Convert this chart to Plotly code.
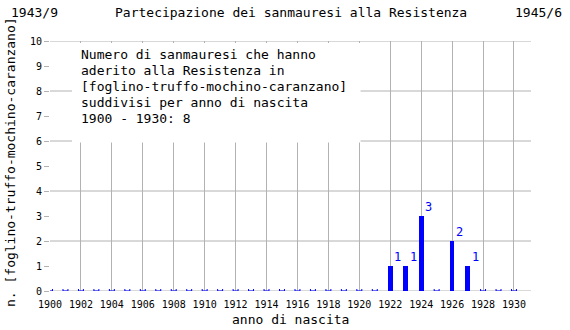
import plotly.graph_objects as go

# ---- data ----
years = list(range(1900, 1931))
counts = [0, 0, 0, 0, 0, 0, 0, 0, 0, 0,
          0, 0, 0, 0, 0, 0, 0, 0, 0, 0,
          0, 0, 1, 1, 3, 0, 2, 1, 0, 0, 0]
x_tick_vals = list(range(1900, 1931, 2))
y_tick_vals = list(range(0, 11))
y_grid_vals = [0, 2, 4, 6, 8, 10]
title_left = "1943/9"
title_center = "Partecipazione dei sanmauresi alla Resistenza"
title_right = "1945/6"
box_lines = [
    "Numero di sanmauresi che hanno",
    "aderito alla Resistenza in",
    "[foglino-truffo-mochino-caranzano]",
    "suddivisi per anno di nascita",
    "1900 - 1930: 8",
]
x_title = "anno di nascita"
y_title = "n. [foglino-truffo-mochino-caranzano]"

# ---- layout geometry ----
W, H = 570, 330
L, R, T, B = 50, 39, 41, 39
PW, PH = W - L - R, H - T - B
FONT = "DejaVu Sans Mono"
GRID = "#b2b2b2"
BLUE = "#0000ff"


def px(x):
    return (x - L) / PW


def py(y):
    return (H - B - y) / PH


fig = go.Figure()

bar_x = [y for y, c in zip(years, counts) if c > 0]
bar_y = [c for c in counts if c > 0]
zero_x = [y for y, c in zip(years, counts) if c == 0]
zero_y = [c for c in counts if c == 0]

fig.add_trace(go.Bar(x=bar_x, y=bar_y, width=0.3, marker=dict(color=BLUE, line=dict(width=0)),
                     hoverinfo="skip"))
fig.add_trace(go.Scatter(x=zero_x, y=zero_y, mode="markers",
                         marker=dict(size=0.1, color=BLUE),
                         error_x=dict(type="constant", value=0.16, color=BLUE, thickness=1, width=2),
                         hoverinfo="skip", cliponaxis=False))

shapes = []
for gy in y_grid_vals:
    shapes.append(dict(type="line", xref="paper", yref="y", x0=0, x1=1, y0=gy, y1=gy,
                       line=dict(color=GRID, width=1), layer="below"))
# white text box
shapes.append(dict(type="rect", xref="paper", yref="paper",
                   x0=px(72), x1=px(360.6), y0=py(142.5), y1=py(43),
                   fillcolor="white", line=dict(width=0), layer="above"))

annotations = []
for x, c in zip(bar_x, bar_y):
    annotations.append(dict(x=x, y=c, xref="x", yref="y", text=str(c), showarrow=False,
                            xanchor="left", yanchor="bottom", xshift=2, yshift=0,
                            font=dict(family=FONT, size=12, color=BLUE)))
line_y = [54, 70, 86, 102, 118]
for t, ly in zip(box_lines, line_y):
    annotations.append(dict(x=px(79), y=py(ly), xref="paper", yref="paper", text=t,
                            showarrow=False, xanchor="left", yanchor="middle",
                            font=dict(family=FONT, size=13, color="black")))
annotations += [
    dict(x=px(9), y=py(13), xref="paper", yref="paper", text=title_left, showarrow=False,
         xanchor="left", yanchor="middle", font=dict(family=FONT, size=13, color="black")),
    dict(x=0.5, y=py(13), xref="paper", yref="paper", text=title_center, showarrow=False,
         xanchor="center", yanchor="middle", font=dict(family=FONT, size=13, color="black")),
    dict(x=px(564), y=py(13), xref="paper", yref="paper", text=title_right, showarrow=False,
         xanchor="right", yanchor="middle", font=dict(family=FONT, size=13, color="black")),
    dict(x=0.5, y=py(319), xref="paper", yref="paper", text=x_title, showarrow=False,
         xanchor="center", yanchor="middle", font=dict(family=FONT, size=13, color="black")),
    dict(x=px(10), y=py(162), xref="paper", yref="paper", text=y_title, showarrow=False,
         textangle=-90, xanchor="center", yanchor="middle",
         font=dict(family=FONT, size=13, color="black")),
]

fig.update_layout(
    width=W, height=H,
    margin=dict(l=L, r=R, t=T, b=B, pad=0),
    paper_bgcolor="white", plot_bgcolor="white",
    showlegend=False,
    font=dict(family=FONT, size=10, color="black"),
    shapes=shapes,
    annotations=annotations,
    bargap=0,
    xaxis=dict(range=[1900, 1931.1], tickmode="array", tickvals=x_tick_vals,
               ticktext=[str(v) for v in x_tick_vals],
               showgrid=True, gridcolor=GRID, gridwidth=1, zeroline=False,
               showline=False, ticks="outside", ticklen=4, tickcolor="rgba(0,0,0,0)",
               tickfont=dict(family=FONT, size=10, color="black")),
    yaxis=dict(range=[0, 10], tickmode="array", tickvals=y_tick_vals,
               showgrid=False, zeroline=False, showline=False,
               ticks="outside", ticklen=5, tickcolor=GRID, tickwidth=1,
               tickfont=dict(family=FONT, size=10, color="black")),
)

fig.write_html("out.html")
